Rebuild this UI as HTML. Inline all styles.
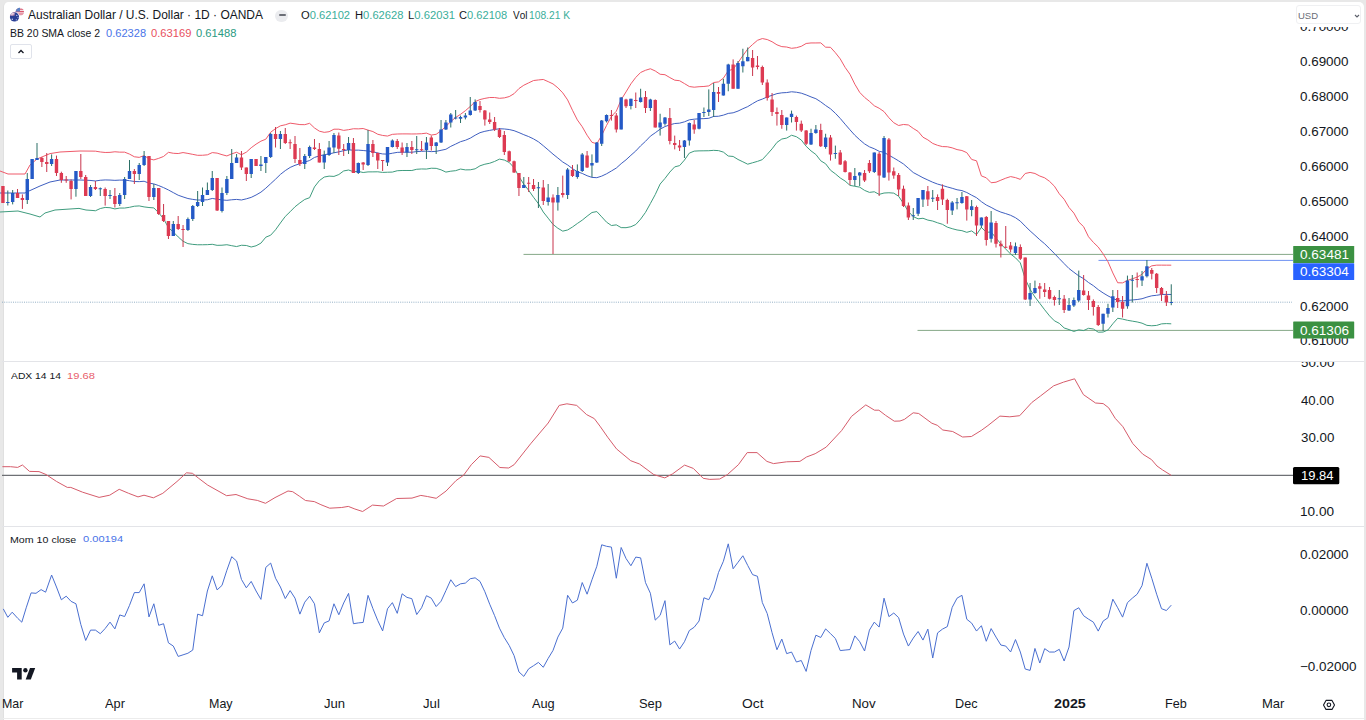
<!DOCTYPE html><html><head><meta charset="utf-8"><title>AUD/USD</title><style>
*{margin:0;padding:0;box-sizing:border-box}
html,body{width:1366px;height:720px;overflow:hidden;background:#e8e8e8}
body{position:relative;font-family:"Liberation Sans",sans-serif;color:#131722;font-kerning:none}
#card{position:absolute;left:3px;top:2px;width:1360.8px;height:718px;background:#fff;border-radius:5px 5px 0 0;border-left:0.6px solid #e0e0e0}
.t{position:absolute;white-space:nowrap;line-height:1;transform-origin:0 0}
</style></head><body>
<div id="card"></div>
<svg width="1366" height="720" viewBox="0 0 1366 720" style="position:absolute;left:0;top:0"><path d="M2 361.5H1364M2 526.5H1364" stroke="#e3e4e8" stroke-width="1.2"/><path d="M2 302.2H1292" stroke="#94b0c6" stroke-width="1" stroke-dasharray="1 1.2"/><path d="M523.5 254.4H1293M917.5 330.4H1293" stroke="#86a888" stroke-width="1"/><path d="M1098.5 260.4H1293" stroke="#6f92f2" stroke-width="1"/><polyline points="0,171 8,174 25,174 30,165 37,159 50,153.6 60,152 80,151 92,151.1 95.42,151.17 100.29,151.96 105.16,152.47 110.03,152.37 114.89,151.78 119.76,152.15 124.63,152.15 129.5,154.1 134.37,156.78 139.23,157.38 144.1,155.6 148.97,158.78 153.84,159.9 158.71,158.35 163.57,156.46 168.44,152.33 173.31,153.27 178.18,153.54 183.05,152.57 187.91,153.41 192.78,154.37 197.65,155.32 202.52,155.25 207.39,154.83 212.25,152.6 217.12,153.12 221.99,154.65 226.86,155.94 231.73,153.86 236.59,152.25 241.46,154.71 246.33,152.17 251.2,147.75 256.07,144.17 260.93,141.17 265.8,139.21 270.67,132.22 275.54,128.62 280.41,125.83 285.27,124.77 290.14,123.15 295.01,123.83 299.88,124.58 304.75,124.67 309.61,123.32 314.48,127.95 319.35,131.17 324.22,132.35 329.09,131.71 333.95,129.19 338.82,129.19 343.69,130.39 348.56,129.7 353.43,128.74 358.29,128.86 363.16,128.52 368.03,130.12 372.9,131.55 377.77,134.26 382.63,135.45 387.5,136.05 392.37,134.35 397.24,134 402.11,133.9 406.97,133.9 411.84,133.98 416.71,133.92 421.58,133.73 426.45,133.13 431.31,135.06 436.18,134.31 441.05,130.78 445.92,126.45 450.79,121.5 455.65,117.47 460.52,114.34 465.39,110.68 470.26,106.51 475.13,101.64 479.99,99.56 484.86,98.39 489.73,97.51 494.6,97.53 499.47,98.31 504.33,97.88 509.2,96.59 514.07,93.68 518.94,88.57 523.81,85.22 528.67,82.86 533.54,80.54 538.41,79.94 543.28,79.46 548.15,81.61 553.01,83.9 557.88,87.82 562.75,92.86 567.62,99.92 572.49,110.29 577.35,119.91 582.22,126.73 587.09,135.23 591.96,142.31 596.83,143.79 601.69,135.39 606.56,125.43 611.43,116.42 616.3,111.22 621.17,99.71 626.03,91.9 630.9,83.85 635.77,77.4 640.64,72.47 645.51,70.28 650.37,68.76 655.24,70.98 660.11,74.26 664.98,74.7 669.85,77.58 674.71,80.17 679.58,80.71 684.45,83.57 689.32,86.53 694.19,87.2 699.05,86.71 703.92,86.47 708.79,85.9 713.66,82.53 718.53,81.88 723.39,78.15 728.26,70.79 733.13,69.14 738,62.66 742.87,55.67 747.73,49.03 752.6,44.47 757.47,40.3 762.34,38.56 767.21,39.54 772.07,41.74 776.94,44.82 781.81,46.64 786.68,47.03 791.55,48.31 796.41,47.72 801.28,46.32 806.15,43.48 811.02,42.95 815.89,42.94 820.75,42.86 825.62,47.19 830.49,47.31 835.36,52.7 840.23,58.89 845.09,67.33 849.96,74.25 854.83,84.21 859.7,92.37 864.57,97.39 869.43,101.31 874.3,105.77 879.17,108.24 884.04,111.62 888.91,117.76 893.77,122.74 898.64,125.49 903.51,124.47 908.38,124.96 913.25,128.43 918.11,131.42 922.98,137.21 927.85,139.89 932.72,143.43 937.59,145.34 942.45,146.58 947.32,146.74 952.19,147.85 957.06,149.58 961.93,150.51 966.79,152.65 971.66,159.45 976.53,160.8 981.4,175.91 986.27,177.8 991.13,182.74 996,182.21 1000.87,180.18 1005.74,178.18 1010.61,176.58 1015.47,177.61 1020.34,179.39 1025.21,173.48 1030.08,172.43 1034.95,173.47 1039.81,176.06 1044.68,177.82 1049.55,181.36 1054.42,186.18 1059.29,193.81 1064.15,199.27 1069.02,207.5 1073.89,213.1 1078.76,221.94 1083.63,226.72 1088.49,236.73 1093.36,242.36 1098.23,247.04 1103.1,253.81 1107.97,261.76 1112.83,272.95 1117.7,282.76 1122.57,282.88 1127.44,280.45 1132.31,278.79 1137.17,277.12 1142.04,274.31 1146.91,268.88 1151.78,265.84 1156.65,265.15 1161.51,265.14 1166.38,265.17 1171.25,265.18" fill="none" stroke="#ef5a6a" stroke-width="1"/><polyline points="0,193 25,193 29,191 40,186 50,182 60,180 80,180 90,180.4 95.42,180.97 100.29,180.25 105.16,179.95 110.03,180.05 114.89,180.35 119.76,180.1 124.63,180.1 129.5,180.7 134.37,181.5 139.23,181.65 144.1,181.25 148.97,183.15 153.84,183.9 158.71,185.6 163.57,187.62 168.44,189.97 173.31,192.62 178.18,195.22 183.05,196.93 187.91,198.53 192.78,199.38 197.65,200.05 202.52,200 207.39,199.75 212.25,198.45 217.12,199.23 221.99,199.93 226.86,200.33 231.73,199.78 236.59,199.41 241.46,199.98 246.33,198.83 251.2,197.38 256.07,194.98 260.93,192.16 265.8,188.2 270.67,183.7 275.54,179.2 280.41,174.41 285.27,170.6 290.14,167.45 295.01,165.31 299.88,163.75 304.75,162.06 309.61,160.5 314.48,157.43 319.35,155.9 324.22,154.7 329.09,153.93 333.95,152.8 338.82,151.86 343.69,150.66 348.56,149.86 353.43,150.21 358.29,150.14 363.16,150.51 368.03,151.01 372.9,151.71 377.77,153.04 382.63,153.94 387.5,154.14 392.37,153.22 397.24,152.37 402.11,152.19 406.97,152.19 411.84,152.24 416.71,151.59 421.58,151.34 426.45,151.09 431.31,151.64 436.18,151.33 441.05,150.3 445.92,149.28 450.79,146.35 455.65,144.07 460.52,141.7 465.39,140.28 470.26,138.16 475.13,135.23 479.99,132.68 484.86,131.3 489.73,130.37 494.6,129.49 499.47,128.72 504.33,128.97 509.2,129.53 514.07,130.68 518.94,132.58 523.81,134.7 528.67,136.58 533.54,138.9 538.41,141.81 543.28,145.73 548.15,149.89 553.01,154.14 557.88,158.04 562.75,162.01 567.62,164.95 572.49,168.65 577.35,171.7 582.22,173.45 587.09,175.72 591.96,177.4 596.83,177.68 601.69,176.11 606.56,173.8 611.43,170.97 616.3,168.04 621.17,163.66 626.03,159.8 630.9,155.29 635.77,150.97 640.64,145.79 645.51,141.31 650.37,136.16 655.24,132.79 660.11,129.16 664.98,126.57 669.85,124.82 674.71,123.52 679.58,123.17 684.45,121.83 689.32,119.83 694.19,119.17 699.05,118.79 703.92,118.64 708.79,118.31 713.66,116.44 718.53,116.25 723.39,115.13 728.26,113.41 733.13,112.8 738,111.07 742.87,108.73 747.73,106.62 752.6,103.62 757.47,100.84 762.34,99.09 767.21,96.94 772.07,95.29 776.94,93.61 781.81,92.83 786.68,92.56 791.55,91.78 796.41,92.23 801.28,93.16 806.15,94.88 811.02,96.92 815.89,98.71 820.75,101.83 825.62,105.49 830.49,108.77 835.36,113.27 840.23,118.43 845.09,124.18 849.96,129.8 854.83,135.25 859.7,139.75 864.57,143.88 869.43,146.84 874.3,148.77 879.17,151.3 884.04,152.32 888.91,155.26 893.77,157.94 898.64,160.88 903.51,164 908.38,168.22 913.25,172.53 918.11,175.12 922.98,177.74 927.85,179.99 932.72,182.24 937.59,184.07 942.45,185.44 947.32,186.94 952.19,188.27 957.06,189.77 961.93,190.59 966.79,192.5 971.66,195.18 976.53,197.68 981.4,201.66 986.27,205.03 991.13,207.38 996,210.09 1000.87,212.11 1005.74,213.61 1010.61,215.3 1015.47,217.71 1020.34,221.15 1025.21,226.15 1030.08,230.9 1034.95,235.25 1039.81,239.72 1044.68,243.81 1049.55,248.63 1054.42,253.5 1059.29,258.58 1064.15,263.61 1069.02,268.54 1073.89,272.26 1078.76,275.89 1083.63,278.64 1088.49,282.51 1093.36,285.68 1098.23,289.62 1103.1,292.93 1107.97,295.86 1112.83,298.36 1117.7,300.52 1122.57,300.99 1127.44,300.37 1132.31,299.97 1137.17,299.53 1142.04,298.74 1146.91,297.12 1151.78,295.81 1156.65,295.28 1161.51,294.5 1166.38,294.38 1171.25,294.5" fill="none" stroke="#3f5fc0" stroke-width="1"/><polyline points="0,212 18,211 30,214 40,217 45,213 55,210 70,209 79,208.4 86,210 93,210.5 95.42,210.78 100.29,208.54 105.16,207.43 110.03,207.73 114.89,208.92 119.76,208.05 124.63,208.05 129.5,207.3 134.37,206.22 139.23,205.92 144.1,206.9 148.97,207.52 153.84,207.9 158.71,212.85 163.57,218.79 168.44,227.62 173.31,231.98 178.18,236.91 183.05,241.28 187.91,243.64 192.78,244.38 197.65,244.78 202.52,244.75 207.39,244.67 212.25,244.3 217.12,245.34 221.99,245.21 226.86,244.72 231.73,245.7 236.59,246.56 241.46,245.25 246.33,245.49 251.2,247.01 256.07,245.79 260.93,243.14 265.8,237.2 270.67,235.19 275.54,229.79 280.41,222.98 285.27,216.44 290.14,211.76 295.01,206.78 299.88,202.93 304.75,199.44 309.61,197.69 314.48,186.9 319.35,180.63 324.22,177.05 329.09,176.14 333.95,176.41 338.82,174.54 343.69,170.94 348.56,170.02 353.43,171.68 358.29,171.42 363.16,172.5 368.03,171.9 372.9,171.87 377.77,171.81 382.63,172.42 387.5,172.23 392.37,172.08 397.24,170.74 402.11,170.49 406.97,170.49 411.84,170.51 416.71,169.27 421.58,168.96 426.45,169.06 431.31,168.22 436.18,168.35 441.05,169.82 445.92,172.1 450.79,171.19 455.65,170.67 460.52,169.06 465.39,169.88 470.26,169.81 475.13,168.82 479.99,165.8 484.86,164.21 489.73,163.23 494.6,161.45 499.47,159.12 504.33,160.05 509.2,162.46 514.07,167.68 518.94,176.59 523.81,184.19 528.67,190.29 533.54,197.27 538.41,203.67 543.28,212 548.15,218.17 553.01,224.38 557.88,228.26 562.75,231.15 567.62,229.98 572.49,227.01 577.35,223.49 582.22,220.17 587.09,216.21 591.96,212.5 596.83,211.57 601.69,216.83 606.56,222.16 611.43,225.52 616.3,224.86 621.17,227.62 626.03,227.7 630.9,226.73 635.77,224.53 640.64,219.11 645.51,212.35 650.37,203.56 655.24,194.59 660.11,184.06 664.98,178.43 669.85,172.05 674.71,166.86 679.58,165.63 684.45,160.08 689.32,153.12 694.19,151.14 699.05,150.87 703.92,150.81 708.79,150.72 713.66,150.35 718.53,150.62 723.39,152.11 728.26,156.03 733.13,156.46 738,159.48 742.87,161.8 747.73,164.2 752.6,162.76 757.47,161.38 762.34,159.62 767.21,154.34 772.07,148.84 776.94,142.41 781.81,139.03 786.68,138.09 791.55,135.24 796.41,136.73 801.28,139.99 806.15,146.27 811.02,150.9 815.89,154.47 820.75,160.81 825.62,163.78 830.49,170.23 835.36,173.84 840.23,177.96 845.09,181.02 849.96,185.35 854.83,186.29 859.7,187.13 864.57,190.38 869.43,192.38 874.3,191.77 879.17,194.36 884.04,193.03 888.91,192.76 893.77,193.14 898.64,196.28 903.51,203.52 908.38,211.48 913.25,216.63 918.11,218.82 922.98,218.28 927.85,220.09 932.72,221.06 937.59,222.8 942.45,224.31 947.32,227.14 952.19,228.68 957.06,229.96 961.93,230.67 966.79,232.34 971.66,230.91 976.53,234.56 981.4,227.41 986.27,232.26 991.13,232.02 996,237.98 1000.87,244.04 1005.74,249.04 1010.61,254.02 1015.47,257.81 1020.34,262.91 1025.21,278.81 1030.08,289.37 1034.95,297.03 1039.81,303.37 1044.68,309.81 1049.55,315.89 1054.42,320.82 1059.29,323.35 1064.15,327.95 1069.02,329.59 1073.89,331.43 1078.76,329.84 1083.63,330.56 1088.49,328.3 1093.36,328.99 1098.23,332.19 1103.1,332.05 1107.97,329.95 1112.83,323.76 1117.7,318.28 1122.57,319.1 1127.44,320.29 1132.31,321.14 1137.17,321.94 1142.04,323.17 1146.91,325.36 1151.78,325.77 1156.65,325.41 1161.51,323.86 1166.38,323.58 1171.25,323.82" fill="none" stroke="#3f9c7e" stroke-width="1"/><path d="M7.8 190.5V205.5M12.67 190V204.4M27.27 173V204M32.14 159V179M37.01 143V160M51.61 154.4V166M75.95 171V196.7M90.55 185V197M100.29 187.5V196M110.03 190V199M119.76 193V206M124.63 177V199M129.5 160V179M139.23 163V180M144.1 151V166M153.84 184V200M173.31 221V236M187.91 217.5V231M192.78 205V221M197.65 191V207M202.52 187.5V206M207.39 182.5V195M212.25 171V191M221.99 187.5V212.5M226.86 176V195M231.73 149V179M236.59 154V163M251.2 159V178M260.93 156V171M265.8 157V173M270.67 133V158M280.41 131V149M304.75 154V169M309.61 145.6V158M324.22 150.6V169M329.09 141V156M333.95 133V153M348.56 137V154M358.29 162.5V174M368.03 130V166M387.5 147V166M392.37 139.4V147.5M406.97 143V157M416.71 136V154M426.45 137V159M436.18 142V154M441.05 120V143M445.92 120V130M450.79 113V127.5M455.65 110V119.4M460.52 115.6V123M465.39 113V119.4M470.26 97V115.6M475.13 99.4V111M523.81 177V188M538.41 182V208M548.15 184V205.6M557.88 187V210.6M567.62 168V199M577.35 164.4V178.75M582.22 153V172M591.96 154.4V177M596.83 142V163M601.69 120V146M606.56 114.4V122.5M621.17 97V129.4M630.9 98.75V109.4M640.64 88.75V102.5M650.37 98.75V111M660.11 113.75V135.6M664.98 117V125.6M684.45 140V158M689.32 122.5V145.6M699.05 113V129.4M703.92 107.5V117M708.79 89.4V116M713.66 83V117M723.39 78.75V95.6M728.26 63.75V91.25M738 61V88.75M742.87 48.75V72.5M747.73 47.5V61.25M786.68 117.5V130.6M791.55 110.6V122.5M811.02 128.75V145M815.89 125V133.75M825.62 133.75V148.75M835.36 145.6V158.75M854.83 168V186M859.7 172V186M874.3 152.5V173M884.04 136V178M913.25 208V220M918.11 198V216M922.98 190V207M932.72 190V202M952.19 201V215M957.06 198V209.4M961.93 192V203.75M971.66 200V216.25M981.4 217.5V228M991.13 211V242.5M1015.47 242.5V255M1030.08 283V306M1034.95 280.6V293.75M1059.29 290V305M1069.02 298V311M1073.89 297.5V307M1078.76 270.6V302M1103.1 313.75V331M1107.97 303.75V317.5M1112.83 290V312M1127.44 275.6V308.75M1132.31 275V302.5M1142.04 271V286M1146.91 260V277.5M1171.25 284.3V305.2" stroke="#2b6f66" stroke-width="1"/><path d="M2.93 186V203M17.53 189V198M22.4 194.4V208.9M41.87 157V167M46.74 153V172M56.48 155.6V176M61.35 171.7V182.8M66.21 176V182.8M71.08 179.4V199.4M80.82 154V179M85.69 175V196M95.42 181V190M105.16 187.5V205.6M114.89 188V207.5M134.37 169V184M148.97 156V201M158.71 188V215M163.57 204V222M168.44 221V239M178.18 216V230M183.05 225V247M217.12 178V211M241.46 151V170M246.33 167.5V181M256.07 159V166M275.54 127V147.5M285.27 128V144M290.14 139.4V149M295.01 136V163M299.88 148V166M314.48 139V150M319.35 143V162.5M338.82 132.5V155M343.69 144V156M353.43 138V173M363.16 162V170M372.9 140V157M377.77 152.5V169M382.63 160V171M397.24 139V149M402.11 142.5V155M411.84 141V154M421.58 141V151M431.31 135.6V150.6M479.99 101V112.5M484.86 110V125.6M489.73 112.5V124M494.6 117V131M499.47 128V138M504.33 131V155M509.2 150.6V162M514.07 160.6V173M518.94 173V196M528.67 177V192M533.54 179V191M543.28 180V205M553.01 194.4V254M562.75 175.6V197.5M572.49 165V177M587.09 151V168M611.43 110V120.6M616.3 113V132.5M626.03 98.75V108M635.77 92.5V108M645.51 91V113M655.24 99.4V127.5M669.85 108V144.4M674.71 135.6V149.4M679.58 140V151M694.19 120V133.75M718.53 87V102M733.13 59.4V88.75M752.6 50V76M757.47 56V69.4M762.34 65.6V85M767.21 79.4V100.6M772.07 93V116M776.94 107.5V125.6M781.81 110V128.75M796.41 115.6V130.6M801.28 120.6V132M806.15 130V145M820.75 123.75V147M830.49 135V160.6M840.23 150V165M845.09 160V172.5M849.96 172V185M864.57 170V182M869.43 160V173M879.17 152V196M888.91 138V180.6M893.77 167.5V178.75M898.64 173V196M903.51 185.6V207M908.38 202.5V220M927.85 186V206M937.59 194.4V210M942.45 184.4V205M947.32 198.75V223.75M966.79 196V220.6M976.53 205.6V236M986.27 216V245.6M996 221V247.5M1000.87 240.6V257.5M1005.74 226V248M1010.61 242V252.5M1020.34 244.4V260M1025.21 257.5V300M1039.81 283V298.75M1044.68 283V297M1049.55 287V299.4M1054.42 295.6V305.6M1064.15 295V313M1083.63 275V295.6M1088.49 291V310M1093.36 299.4V315.6M1098.23 305V326M1117.7 290V308M1122.57 296V317.5M1137.17 272.5V287.5M1151.78 268V279.4M1156.65 273V293M1161.51 287V301M1166.38 291V306" stroke="#c8354c" stroke-width="1"/><path d="M6.1 202h3.4V203h-3.4ZM10.97 193h3.4V202h-3.4ZM25.57 179h3.4V200h-3.4ZM30.44 159h3.4V179h-3.4ZM35.31 158h3.4V160h-3.4ZM49.91 159h3.4V164h-3.4ZM74.25 171h3.4V189h-3.4ZM88.85 187h3.4V196h-3.4ZM98.59 188.25h3.4V189.25h-3.4ZM108.33 195h3.4V196h-3.4ZM118.06 195h3.4V204h-3.4ZM122.93 179h3.4V195h-3.4ZM127.8 171h3.4V179h-3.4ZM137.53 165h3.4V174h-3.4ZM142.4 156h3.4V165h-3.4ZM152.14 188h3.4V197h-3.4ZM171.61 224h3.4V236h-3.4ZM186.21 219h3.4V230h-3.4ZM191.08 206h3.4V219h-3.4ZM195.95 202h3.4V206h-3.4ZM200.82 195h3.4V202h-3.4ZM205.69 190h3.4V195h-3.4ZM210.55 178h3.4V190h-3.4ZM220.29 193h3.4V211h-3.4ZM225.16 179h3.4V193h-3.4ZM230.03 163h3.4V179h-3.4ZM234.89 157.5h3.4V163h-3.4ZM249.5 159h3.4V174h-3.4ZM259.23 164.5h3.4V166h-3.4ZM264.1 157h3.4V163h-3.4ZM268.97 134h3.4V157h-3.4ZM278.71 134h3.4V139h-3.4ZM303.05 156h3.4V164h-3.4ZM307.91 147h3.4V156h-3.4ZM322.52 155h3.4V162.5h-3.4ZM327.39 147.5h3.4V155h-3.4ZM332.25 135h3.4V147.5h-3.4ZM346.86 143h3.4V150h-3.4ZM356.59 163h3.4V173h-3.4ZM366.33 144h3.4V165h-3.4ZM385.8 147h3.4V162.5h-3.4ZM390.67 140.6h3.4V147h-3.4ZM405.27 147h3.4V152.5h-3.4ZM415.01 149.25h3.4V150.25h-3.4ZM424.75 142.5h3.4V150h-3.4ZM434.48 142.5h3.4V146h-3.4ZM439.35 129.4h3.4V142.5h-3.4ZM444.22 122.5h3.4V129.4h-3.4ZM449.09 114.4h3.4V122.5h-3.4ZM453.95 117.5h3.4V118.5h-3.4ZM458.82 117h3.4V118.75h-3.4ZM463.69 115.6h3.4V117.5h-3.4ZM468.56 110.6h3.4V115h-3.4ZM473.43 102h3.4V110.6h-3.4ZM522.11 185h3.4V188h-3.4ZM536.71 187.25h3.4V188.25h-3.4ZM546.45 197.5h3.4V202h-3.4ZM556.18 195h3.4V202.5h-3.4ZM565.92 169.4h3.4V195h-3.4ZM575.65 171h3.4V177h-3.4ZM580.52 154.4h3.4V171h-3.4ZM590.26 163h3.4V165.6h-3.4ZM595.13 142.5h3.4V162.5h-3.4ZM599.99 120.6h3.4V143.75h-3.4ZM604.86 115h3.4V121.25h-3.4ZM619.47 97.5h3.4V129.4h-3.4ZM629.2 98.75h3.4V106h-3.4ZM638.94 97.5h3.4V102h-3.4ZM648.67 99.4h3.4V108h-3.4ZM658.41 122.5h3.4V127.5h-3.4ZM663.28 117.5h3.4V123.75h-3.4ZM682.75 140.6h3.4V147h-3.4ZM687.62 123h3.4V140.6h-3.4ZM697.35 113h3.4V128.75h-3.4ZM702.22 112h3.4V113h-3.4ZM707.09 109.4h3.4V112h-3.4ZM711.96 92h3.4V110h-3.4ZM721.69 83.75h3.4V95.6h-3.4ZM726.56 64.4h3.4V83.75h-3.4ZM736.3 63h3.4V88.75h-3.4ZM741.17 61.25h3.4V66.25h-3.4ZM746.03 57h3.4V61.25h-3.4ZM784.98 117.5h3.4V125h-3.4ZM789.85 113.75h3.4V117h-3.4ZM809.32 133h3.4V144.4h-3.4ZM814.19 129.4h3.4V133h-3.4ZM823.92 137.5h3.4V147h-3.4ZM833.66 153h3.4V154h-3.4ZM853.13 176h3.4V180h-3.4ZM858 172.5h3.4V175.6h-3.4ZM872.6 152.5h3.4V172h-3.4ZM882.34 138h3.4V177.5h-3.4ZM911.55 215.3h3.4V216.3h-3.4ZM916.41 198h3.4V213.75h-3.4ZM921.28 190h3.4V199.4h-3.4ZM931.02 197.75h3.4V198.75h-3.4ZM950.49 202.5h3.4V210.6h-3.4ZM955.36 202.25h3.4V203.25h-3.4ZM960.23 197h3.4V203h-3.4ZM969.96 206.25h3.4V210h-3.4ZM979.7 217.5h3.4V225.6h-3.4ZM989.43 222.5h3.4V238.75h-3.4ZM1013.77 246.25h3.4V253h-3.4ZM1028.38 293h3.4V299.4h-3.4ZM1033.25 288h3.4V293h-3.4ZM1057.59 298.25h3.4V299.25h-3.4ZM1067.32 305h3.4V310.6h-3.4ZM1072.19 300h3.4V305.6h-3.4ZM1077.06 290h3.4V300.6h-3.4ZM1101.4 313.75h3.4V323.75h-3.4ZM1106.27 308h3.4V313.75h-3.4ZM1111.13 296.25h3.4V307.5h-3.4ZM1125.74 280.6h3.4V306.25h-3.4ZM1130.61 279.8h3.4V280.8h-3.4ZM1140.34 276.25h3.4V280.6h-3.4ZM1145.21 266.25h3.4V276.25h-3.4ZM1169.55 302.1h3.4V303.1h-3.4Z" fill="#2459c6"/><path d="M1.23 186h3.4V203h-3.4ZM15.83 193h3.4V198h-3.4ZM20.7 198h3.4V200h-3.4ZM40.17 158h3.4V162h-3.4ZM45.04 162h3.4V164h-3.4ZM54.78 159h3.4V173h-3.4ZM59.65 173h3.4V180h-3.4ZM64.51 179.5h3.4V180.5h-3.4ZM69.38 181h3.4V189h-3.4ZM79.12 171h3.4V177h-3.4ZM83.99 177h3.4V196h-3.4ZM93.72 187h3.4V189h-3.4ZM103.46 189h3.4V196h-3.4ZM113.19 196h3.4V204h-3.4ZM132.67 171h3.4V174h-3.4ZM147.27 156h3.4V197h-3.4ZM157.01 188h3.4V214h-3.4ZM161.87 215h3.4V221h-3.4ZM166.74 221h3.4V236h-3.4ZM176.48 224h3.4V229h-3.4ZM181.35 229h3.4V230h-3.4ZM215.42 178h3.4V210.6h-3.4ZM239.76 157.5h3.4V167.5h-3.4ZM244.63 167.5h3.4V174h-3.4ZM254.37 159h3.4V166h-3.4ZM273.84 134h3.4V139h-3.4ZM283.57 134h3.4V143h-3.4ZM288.44 142.25h3.4V143.25h-3.4ZM293.31 144h3.4V159h-3.4ZM298.18 160h3.4V164h-3.4ZM312.78 147.5h3.4V149h-3.4ZM317.65 149h3.4V162.5h-3.4ZM337.12 135.6h3.4V148.75h-3.4ZM341.99 149h3.4V150h-3.4ZM351.73 143h3.4V173h-3.4ZM361.46 162.5h3.4V164.4h-3.4ZM371.2 144h3.4V153h-3.4ZM376.07 153h3.4V160.6h-3.4ZM380.93 160h3.4V161h-3.4ZM395.54 141h3.4V147h-3.4ZM400.41 147.5h3.4V152.5h-3.4ZM410.14 147h3.4V150h-3.4ZM419.88 149.25h3.4V150.25h-3.4ZM429.61 137.5h3.4V146h-3.4ZM478.29 106h3.4V110h-3.4ZM483.16 110.6h3.4V119.4h-3.4ZM488.03 119.4h3.4V122h-3.4ZM492.9 122h3.4V129.4h-3.4ZM497.77 129.4h3.4V137h-3.4ZM502.63 135h3.4V152h-3.4ZM507.5 151.25h3.4V161.25h-3.4ZM512.37 161.25h3.4V172.5h-3.4ZM517.24 173h3.4V188h-3.4ZM526.97 182.75h3.4V183.75h-3.4ZM531.84 185h3.4V189h-3.4ZM541.58 187.5h3.4V201h-3.4ZM551.31 197.5h3.4V202.5h-3.4ZM561.05 193h3.4V195h-3.4ZM570.79 170h3.4V176h-3.4ZM585.39 155.6h3.4V167.5h-3.4ZM609.73 115h3.4V116h-3.4ZM614.6 115.6h3.4V129.4h-3.4ZM624.33 99.4h3.4V106.25h-3.4ZM634.07 100h3.4V101h-3.4ZM643.81 97h3.4V108h-3.4ZM653.54 100h3.4V127.5h-3.4ZM668.15 118h3.4V141h-3.4ZM673.01 143h3.4V145h-3.4ZM677.88 145.6h3.4V147.5h-3.4ZM692.49 124.4h3.4V129.4h-3.4ZM716.83 92h3.4V93.75h-3.4ZM731.43 64.4h3.4V88.75h-3.4ZM750.9 58h3.4V67.5h-3.4ZM755.77 65.6h3.4V67h-3.4ZM760.64 67h3.4V82.5h-3.4ZM765.51 82.5h3.4V98h-3.4ZM770.37 99.4h3.4V112h-3.4ZM775.24 111.9h3.4V114h-3.4ZM780.11 115h3.4V125h-3.4ZM794.71 117h3.4V122h-3.4ZM799.58 123.75h3.4V130.6h-3.4ZM804.45 130.6h3.4V143.75h-3.4ZM819.05 130h3.4V146.25h-3.4ZM828.79 137.5h3.4V154.4h-3.4ZM838.53 152.5h3.4V164.4h-3.4ZM843.39 161.25h3.4V172h-3.4ZM848.26 172.5h3.4V180h-3.4ZM862.87 173h3.4V180.6h-3.4ZM867.73 163h3.4V171.25h-3.4ZM877.47 153.75h3.4V175.6h-3.4ZM887.21 139.4h3.4V172.5h-3.4ZM892.07 171.25h3.4V175.6h-3.4ZM896.94 175h3.4V189.4h-3.4ZM901.81 188.75h3.4V206h-3.4ZM906.68 205.6h3.4V217.5h-3.4ZM926.15 191.25h3.4V199.4h-3.4ZM935.89 197h3.4V201h-3.4ZM940.75 188.75h3.4V199.4h-3.4ZM945.62 200h3.4V210h-3.4ZM965.09 196.25h3.4V209.4h-3.4ZM974.83 207h3.4V225.6h-3.4ZM984.57 217h3.4V240h-3.4ZM994.3 223h3.4V243.75h-3.4ZM999.17 243.75h3.4V246.25h-3.4ZM1004.04 246.75h3.4V247.75h-3.4ZM1008.91 245.6h3.4V249.4h-3.4ZM1018.64 247h3.4V258.75h-3.4ZM1023.51 257.5h3.4V299.4h-3.4ZM1038.11 286.25h3.4V288.75h-3.4ZM1042.98 289.4h3.4V292h-3.4ZM1047.85 290h3.4V298.75h-3.4ZM1052.72 297h3.4V300h-3.4ZM1062.45 298.75h3.4V310h-3.4ZM1081.93 290.6h3.4V295h-3.4ZM1086.79 295.6h3.4V300h-3.4ZM1091.66 301h3.4V307h-3.4ZM1096.53 307h3.4V325h-3.4ZM1116 298h3.4V302h-3.4ZM1120.87 302h3.4V308.75h-3.4ZM1135.47 279h3.4V280h-3.4ZM1150.08 270h3.4V273.75h-3.4ZM1154.95 273.75h3.4V288h-3.4ZM1159.81 288h3.4V294.4h-3.4ZM1164.68 295.6h3.4V302.5h-3.4Z" fill="#dd3a52"/><path d="M2 475.4H1293" stroke="#6e7075" stroke-width="1.3"/><polyline points="2.4,466.7 10.6,466.7 17.7,467.4 22.4,465 29.5,471.4 39,471.6 46,474.5 56.6,481.5 67.3,487.4 70.8,487.4 82.6,492.2 99.1,497.4 109.7,495.2 119.2,489.3 128.6,493.3 138,496.9 144,495.2 153.4,497.8 162.8,493.3 177,481.5 186.5,472.8 192.4,473.3 198.3,478 207.7,485.1 226.6,495.7 236,494.5 247.8,498.8 257.3,500.4 265.5,503.3 275,497.6 288,491 292.7,491.7 299.7,496.4 305.5,500.5 314.3,501.6 320.9,504.7 329.7,508.2 341.7,507.5 348.3,506.4 354.9,509 362.6,511.5 372.5,505.1 383.5,506 396.6,498.5 412,498.1 420.8,495.4 427.4,496.5 436.2,498.3 446.1,491 455.9,480.7 463.6,475.2 471.3,464.7 480.1,455.9 488.9,457.4 499.9,467.5 508.7,468 514.1,464.7 530.6,443.8 548.2,423 559.2,405.4 566.9,403.8 576.7,405.4 586.6,414.6 594.3,418.6 600,426.2 607.7,437.2 616.5,448.9 630.7,460.7 639.5,464 653.8,474.6 664.8,477.9 672.5,473.9 684.6,465.1 693.3,468.4 703.2,478.3 709.8,479.4 719.7,479 727.4,474.6 738.4,464.7 747.2,452.6 757,452.6 766.9,461.4 773.5,463.6 786.7,461.8 799.9,461.4 806.5,457 815.2,453.7 826.2,447.1 841.6,430.6 851.5,416.4 865.8,404.9 874.5,410.2 878.9,410.2 885.5,415.3 894.3,421.2 900,421 904.4,419.4 913.2,412.8 918.7,413.5 931.8,423.2 937.3,425.3 942.8,430 952.7,431.5 962.6,437 971.4,436.5 981.3,430.4 987.9,425.6 999.9,416.1 1009.8,416.8 1019.7,415.7 1031.8,402.5 1040.6,395.9 1053.7,385.8 1063.6,382.1 1074.6,378.8 1083.4,394.6 1095.5,403 1103.2,403.6 1108.7,407.8 1115.2,418.3 1122.9,426.7 1132.8,443.6 1142.7,454.1 1151.5,459.6 1157,466 1162.5,469.9 1171.3,475.4" fill="none" stroke="#d65c6b" stroke-width="1"/><polyline points="3.3,608.9 7.8,617.3 12.2,612.2 17.8,618.4 21.8,622.2 26.2,607.8 31.1,592.9 36,593.3 41.1,589.6 45.6,592.2 51.61,575.04 56.48,587.01 61.35,599.78 66.21,596.18 71.08,601.37 75.95,603.77 80.82,624.51 85.69,640.47 90.55,630.1 95.42,630.1 100.29,633.69 105.16,628.5 110.03,622.12 114.89,628.9 119.76,614.94 124.63,616.53 129.5,605.36 134.37,592.59 139.23,592.59 144.1,583.82 148.97,616.93 153.84,603.77 158.71,625.31 163.57,623.72 168.44,642.87 173.31,646.06 178.18,656.43 183.05,654.84 187.91,653.24 192.78,650.05 197.65,614.14 202.52,615.74 207.39,591 212.25,575.84 217.12,589.88 221.99,585.41 226.86,570.25 231.73,556.68 236.59,561.07 241.46,579.43 246.33,587.81 251.2,581.42 256.07,591 260.93,599.38 265.8,567.38 270.67,563.07 275.54,578.23 280.41,587.01 285.27,598.58 290.14,590.6 295.01,598.18 299.88,614.14 304.75,602.17 309.61,596.18 314.48,603.77 319.35,632.89 324.22,622.92 329.09,620.92 333.95,603.77 338.82,614.74 343.69,602.97 348.56,593.39 353.43,623.72 358.29,622.92 363.16,622.44 368.03,595.39 372.9,608.55 377.77,620.6 382.63,630.9 387.5,608.75 392.37,602.65 397.24,613.34 402.11,593.79 406.97,597.38 411.84,598.66 416.71,614.54 421.58,607.76 426.45,595.71 431.31,598.18 436.18,606.56 441.05,601.21 445.92,590.6 450.79,579.75 455.65,586.61 460.52,583.82 465.39,583.1 470.26,578.71 475.13,577.83 479.99,581.42 484.86,591.72 489.73,604.24 494.6,615.66 499.47,628.18 504.33,637.68 509.2,645.46 514.07,655.56 518.94,671.92 523.81,676.38 528.67,668.8 533.54,665.69 538.41,662.42 543.28,667.29 548.15,658.43 553.01,650.45 557.88,637.08 562.75,628.11 567.62,595.31 572.49,602.97 577.35,600.17 582.22,582.54 587.09,594.19 591.96,579.83 596.83,566.26 601.69,544.79 606.56,546.31 611.43,547.11 616.3,578.23 621.17,547.51 626.03,558.48 630.9,565.74 635.77,557.08 640.64,557.88 645.51,582.62 650.37,593.23 655.24,620.12 660.11,615.34 664.98,600.65 669.85,644.86 674.71,641.07 679.58,649.05 684.45,641.75 689.32,630.5 694.19,627.23 699.05,621 703.92,597.78 708.79,599.7 713.66,589.8 718.53,572.44 723.39,561.27 728.26,543.84 733.13,568.77 738,562.27 742.87,555.77 747.73,565.46 752.6,574.64 757.47,576.31 762.34,602.57 767.21,613.54 772.07,632.69 776.94,649.73 781.81,639.08 786.68,653.64 791.55,652.04 796.41,662.02 801.28,660.5 806.15,671.4 811.02,650.45 815.89,635.21 820.75,637.48 825.62,628.9 830.49,633.61 835.36,638.48 840.23,650.57 845.09,650.05 849.96,649.57 854.83,635.89 859.7,641.67 864.57,651.01 869.43,630.1 874.3,622.12 879.17,627.07 884.04,598.18 888.91,616.61 893.77,613.02 898.64,617.65 903.51,634.09 908.38,646.06 913.25,638.08 918.11,631.5 922.98,640.07 927.85,629.14 932.72,658.03 937.59,632.89 942.45,629.14 947.32,626.59 952.19,607.36 957.06,598.18 961.93,595.31 966.79,619.25 971.66,623.12 976.53,631.06 981.4,625.71 986.27,641.27 991.13,628.58 996,637.08 1000.87,645.06 1005.74,646.06 1010.61,651.97 1015.47,639.56 1020.34,652.04 1025.21,669.04 1030.08,670.4 1034.95,648.45 1039.81,663.02 1044.68,648.65 1049.55,652.04 1054.42,652.04 1059.29,649.33 1064.15,661.02 1069.02,647.06 1073.89,610.63 1078.76,607.76 1083.63,615.74 1088.49,619.13 1093.36,622.12 1098.23,631.1 1103.1,621.12 1107.97,617.73 1112.83,599.18 1117.7,607.76 1122.57,617.13 1127.44,602.65 1132.31,598.18 1137.17,594.19 1142.04,585.61 1146.91,563.27 1151.78,578.23 1156.65,594.19 1161.51,608.67 1166.38,610.55 1171.25,605.16" fill="none" stroke="#4a6fd0" stroke-width="1"/><path d="M12.1 668.1H21.7V679.6H17.1V672.5H12.1Z" fill="#131722"/><circle cx="25.4" cy="670.3" r="2.2" fill="#131722"/><path d="M30 668.1H35.2L30.8 679.6H25.7Z" fill="#131722"/></svg>
<div class="t" style="left:27.70px;top:9.49px;font-size:12.17px;color:#131722;transform:scaleX(0.9854);">Australian Dollar / U.S. Dollar · 1D · OANDA</div>
<div class="t" style="left:301.30px;top:9.75px;font-size:11.29px;color:#131722;transform:scaleX(0.9903);">O<span style="color:#3aae9a">0.62102</span></div>
<div class="t" style="left:354.81px;top:9.75px;font-size:11.29px;color:#131722;transform:scaleX(0.9901);">H<span style="color:#3aae9a">0.62628</span></div>
<div class="t" style="left:408.00px;top:9.75px;font-size:11.29px;color:#131722;transform:scaleX(0.9967);">L<span style="color:#3aae9a">0.62031</span></div>
<div class="t" style="left:459.34px;top:9.75px;font-size:11.29px;color:#131722;transform:scaleX(0.9852);">C<span style="color:#3aae9a">0.62108</span></div>
<div class="t" style="left:513.25px;top:10.11px;font-size:11.45px;color:#131722;transform:scaleX(0.8734);">Vol</div>
<div class="t" style="left:528.53px;top:9.75px;font-size:11.29px;color:#3aae9a;transform:scaleX(0.9098);">108.21 K</div>
<div class="t" style="left:10.06px;top:28.79px;font-size:10.29px;color:#131722;transform:scaleX(1.0168);">BB 20 SMA close 2</div>
<div class="t" style="left:105.96px;top:28.59px;font-size:10.29px;color:#4a74e8;transform:scaleX(1.0781);">0.62328</div>
<div class="t" style="left:150.75px;top:28.59px;font-size:10.29px;color:#e8505e;transform:scaleX(1.0879);">0.63169</div>
<div class="t" style="left:195.85px;top:28.59px;font-size:10.29px;color:#2a9a82;transform:scaleX(1.0864);">0.61488</div>
<div class="t" style="left:10.70px;top:370.66px;font-size:9.86px;color:#131722;transform:scaleX(1.0474);">ADX 14 14</div>
<div class="t" style="left:67.26px;top:370.78px;font-size:9.71px;color:#e8606c;transform:scaleX(1.1481);">19.68</div>
<div class="t" style="left:9.85px;top:535.23px;font-size:9.42px;color:#131722;transform:scaleX(1.1311);">Mom 10 close</div>
<div class="t" style="left:82.56px;top:535.34px;font-size:9.29px;color:#4a74e8;transform:scaleX(1.1939);">0.00194</div>
<div class="t" style="left:1300.36px;top:21.16px;font-size:12.57px;color:#131722;transform:scaleX(1.0673);">0.70000</div>
<div class="t" style="left:1300.36px;top:56.16px;font-size:12.57px;color:#131722;transform:scaleX(1.0673);">0.69000</div>
<div class="t" style="left:1300.36px;top:91.16px;font-size:12.57px;color:#131722;transform:scaleX(1.0673);">0.68000</div>
<div class="t" style="left:1300.36px;top:126.16px;font-size:12.57px;color:#131722;transform:scaleX(1.0673);">0.67000</div>
<div class="t" style="left:1300.36px;top:161.16px;font-size:12.57px;color:#131722;transform:scaleX(1.0673);">0.66000</div>
<div class="t" style="left:1300.36px;top:196.26px;font-size:12.57px;color:#131722;transform:scaleX(1.0673);">0.65000</div>
<div class="t" style="left:1300.36px;top:231.06px;font-size:12.57px;color:#131722;transform:scaleX(1.0673);">0.64000</div>
<div class="t" style="left:1300.36px;top:300.56px;font-size:12.57px;color:#131722;transform:scaleX(1.0673);">0.62000</div>
<div class="t" style="left:1300.36px;top:334.96px;font-size:12.57px;color:#131722;transform:scaleX(1.0673);">0.61000</div>
<div style="position:absolute;left:1290px;top:362px;width:70px;height:10px;overflow:hidden"><div style="position:absolute;left:-1290px;top:-362px"><div class="t" style="left:1300.67px;top:357.36px;font-size:12.57px;color:#131722;transform:scaleX(1.0595);">50.00</div></div></div>
<svg width="1366" height="720" viewBox="0 0 1366 720" style="position:absolute;left:0;top:0"><rect x="1293.2" y="246" width="61" height="17" rx="0.6" fill="#3b9142"/><rect x="1293.2" y="263.2" width="61" height="16.9" rx="0.6" fill="#2962ff"/><rect x="1293.2" y="321.4" width="61" height="17.2" rx="0.6" fill="#3b9142"/><rect x="1293" y="467" width="46.3" height="17.2" rx="1.5" fill="#000"/><path d="M1326 700.4H1332L1334.5 704.9L1332 709.4H1326L1323.5 704.9Z" fill="none" stroke="#131722" stroke-width="1.1" stroke-linejoin="round"/><circle cx="1328.9" cy="704.8" r="1.8" fill="none" stroke="#131722" stroke-width="1.1"/></svg>
<div class="t" style="left:1300.46px;top:248.96px;font-size:12.57px;color:#fff;transform:scaleX(1.0794);">0.63481</div>
<div class="t" style="left:1300.46px;top:266.46px;font-size:12.57px;color:#fff;transform:scaleX(1.0748);">0.63304</div>
<div class="t" style="left:1300.46px;top:324.56px;font-size:12.57px;color:#fff;transform:scaleX(1.0779);">0.61306</div>
<div class="t" style="left:1300.94px;top:394.56px;font-size:12.57px;color:#131722;transform:scaleX(1.0508);">40.00</div>
<div class="t" style="left:1300.67px;top:431.76px;font-size:12.57px;color:#131722;transform:scaleX(1.0595);">30.00</div>
<div class="t" style="left:1300.18px;top:506.26px;font-size:12.57px;color:#131722;transform:scaleX(1.0817);">10.00</div>
<div class="t" style="left:1301.32px;top:470.36px;font-size:12.57px;color:#fff;transform:scaleX(1.0362);">19.84</div>
<div class="t" style="left:1300.16px;top:549.36px;font-size:12.57px;color:#131722;transform:scaleX(1.0696);">0.02000</div>
<div class="t" style="left:1300.16px;top:605.16px;font-size:12.57px;color:#131722;transform:scaleX(1.0696);">0.00000</div>
<div class="t" style="left:1300.03px;top:661.16px;font-size:12.57px;color:#131722;transform:scaleX(1.0709);">−0.02000</div>
<div class="t" style="left:1.71px;top:698.45px;font-size:12.46px;color:#131722;transform:scaleX(0.9974);">Mar</div>
<div class="t" style="left:104.90px;top:698.45px;font-size:12.46px;color:#131722;transform:scaleX(1.0264);">Apr</div>
<div class="t" style="left:209.40px;top:698.45px;font-size:12.46px;color:#131722;transform:scaleX(1.0018);">May</div>
<div class="t" style="left:323.80px;top:698.45px;font-size:12.46px;color:#131722;transform:scaleX(1.0488);">Jun</div>
<div class="t" style="left:423.40px;top:698.45px;font-size:12.46px;color:#131722;transform:scaleX(1.0608);">Jul</div>
<div class="t" style="left:532.40px;top:698.45px;font-size:12.46px;color:#131722;transform:scaleX(1.0245);">Aug</div>
<div class="t" style="left:638.92px;top:698.45px;font-size:12.46px;color:#131722;transform:scaleX(1.0366);">Sep</div>
<div class="t" style="left:741.58px;top:698.45px;font-size:12.46px;color:#131722;transform:scaleX(1.1089);">Oct</div>
<div class="t" style="left:852.23px;top:698.45px;font-size:12.46px;color:#131722;transform:scaleX(1.0698);">Nov</div>
<div class="t" style="left:955.49px;top:698.45px;font-size:12.46px;color:#131722;transform:scaleX(1.0155);">Dec</div>
<div class="t" style="left:1165.29px;top:698.45px;font-size:12.46px;color:#131722;transform:scaleX(1.0129);">Feb</div>
<div class="t" style="left:1261.96px;top:698.45px;font-size:12.46px;color:#131722;transform:scaleX(1.0467);">Mar</div>
<div class="t" style="left:1053.50px;top:698.46px;font-size:12.57px;font-weight:bold;color:#131722;transform:scaleX(1.1390);">2025</div>
<div class="t" style="left:1298.19px;top:10.98px;font-size:9.71px;color:#6a6d78;transform:scaleX(0.9781);">USD</div>
<svg class="t" style="left:0;top:0" width="30" height="30" viewBox="0 0 30 30"><defs><clipPath id="cu"><circle cx="19.8" cy="11.9" r="4.2"/></clipPath><clipPath id="ca"><circle cx="14.5" cy="16.9" r="4.6"/></clipPath></defs><g clip-path="url(#cu)"><rect x="15" y="7" width="10" height="10" fill="#f3dde3"/><path d="M15 9.2h10M15 11.6h10M15 14h10" stroke="#d9566e" stroke-width="1.1"/><rect x="15" y="7" width="5" height="4.6" fill="#5b82c4"/></g><circle cx="14.5" cy="16.9" r="5.2" fill="#fff"/><g clip-path="url(#ca)"><rect x="9" y="11" width="12" height="12" fill="#2a3f95"/><rect x="9.5" y="12" width="5" height="3.6" fill="#c98aa8"/><path d="M9.5 13.8h5M12 12v3.6" stroke="#e9e4f4" stroke-width="0.9"/><circle cx="12.3" cy="19.2" r="0.75" fill="#c9d3f0"/><circle cx="16.8" cy="15.4" r="0.6" fill="#c9d3f0"/><circle cx="16.3" cy="19.8" r="0.6" fill="#c9d3f0"/><circle cx="18" cy="17.6" r="0.5" fill="#c9d3f0"/></g></svg>
<div class="t" style="left:275.4px;top:9.6px;width:12.7px;height:12.7px;border-radius:50%;background:#ebecef"></div>
<div class="t" style="left:278.7px;top:13.5px;width:7px;height:2.1px;border-radius:1px;background:#6b6e76"></div>
<div class="t" style="left:10.2px;top:44px;width:21.6px;height:15.4px;border:1px solid #e0e3eb;border-radius:2px"></div>
<svg class="t" style="left:16px;top:48px" width="10" height="7" viewBox="0 0 10 7"><path d="M2.5 5L5 2.5L7.5 5" fill="none" stroke="#131722" stroke-width="1.3"/></svg>
<div class="t" style="left:1296px;top:24px;width:64px;height:3px;background:#fff"></div>
<div class="t" style="left:1295.6px;top:5.3px;width:65.4px;height:19.2px;border:1px solid #eff0f2;border-radius:3px;background:#fff"></div>
<div class="t" style="left:1298.19px;top:10.98px;font-size:9.71px;color:#6a6d78;transform:scaleX(0.9781);">USD</div>
<svg class="t" style="left:1353.5px;top:13.8px" width="6" height="4" viewBox="0 0 6 4"><path d="M1 1L3 3L5 1" fill="none" stroke="#5d606b" stroke-width="1.1"/></svg>
<div class="t" style="left:3px;top:717.8px;width:1361px;height:1px;background:#ececec"></div>
</body></html>
